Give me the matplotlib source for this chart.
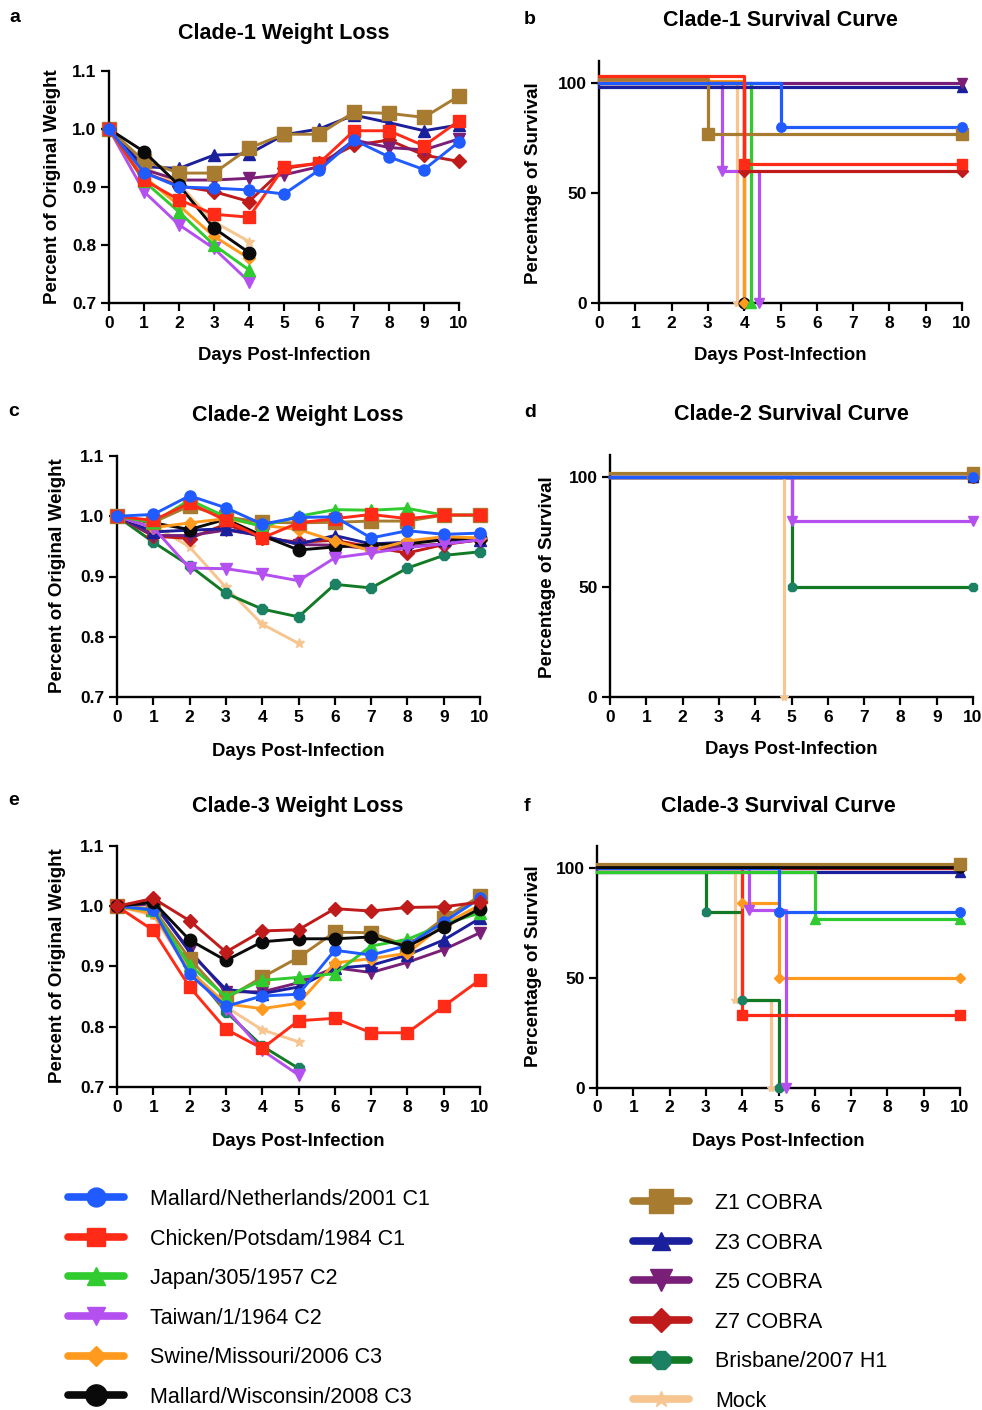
import matplotlib
matplotlib.use('Agg')
import matplotlib.pyplot as plt
from matplotlib.lines import Line2D

plt.rcParams['font.family'] = ['Liberation Sans', 'DejaVu Sans']

W, H = 982, 1410

# ---------------- data ----------------
days = list(range(11))
keys = ['MN', 'CP', 'JP', 'TW', 'SM', 'MW', 'Z1', 'Z3', 'Z5', 'Z7', 'BR', 'MK']
labels = ['Mallard/Netherlands/2001 C1', 'Chicken/Potsdam/1984 C1', 'Japan/305/1957 C2',
          'Taiwan/1/1964 C2', 'Swine/Missouri/2006 C3', 'Mallard/Wisconsin/2008 C3',
          'Z1 COBRA', 'Z3 COBRA', 'Z5 COBRA', 'Z7 COBRA', 'Brisbane/2007 H1', 'Mock']

# Clade-1 weight loss
a_MN = [1.0, 0.925, 0.900, 0.898, 0.895, 0.888, 0.929, 0.981, 0.952, 0.930, 0.978]
a_CP = [1.0, 0.912, 0.878, 0.853, 0.848, 0.934, 0.941, 0.997, 0.997, 0.971, 1.014]
a_JP = [1.0, 0.910, 0.857, 0.800, 0.757]
a_TW = [1.0, 0.892, 0.835, 0.794, 0.737]
a_SM = [1.0, 0.918, 0.868, 0.815, 0.777]
a_MW = [1.0, 0.961, 0.903, 0.829, 0.787]
a_Z1 = [1.0, 0.945, 0.924, 0.924, 0.967, 0.991, 0.991, 1.029, 1.027, 1.020, 1.057]
a_Z3 = [1.0, 0.935, 0.932, 0.955, 0.957, 0.990, 1.000, 1.024, 1.011, 0.997, 1.007]
a_Z5 = [1.0, 0.930, 0.912, 0.912, 0.915, 0.921, 0.935, 0.981, 0.968, 0.964, 0.983]
a_Z7 = [1.0, 0.925, 0.902, 0.892, 0.875, 0.932, 0.941, 0.972, 0.981, 0.955, 0.944]
a_MK = [1.0, 0.935, 0.905, 0.840, 0.806]

# Clade-2 weight loss
c_MN = [1.0, 1.003, 1.034, 1.014, 0.987, 0.998, 0.999, 0.964, 0.976, 0.970, 0.972]
c_CP = [1.0, 0.993, 1.022, 0.993, 0.964, 0.989, 0.996, 1.003, 0.996, 1.002, 1.002]
c_JP = [1.0, 0.990, 1.027, 0.999, 0.983, 1.000, 1.011, 1.010, 1.013, 1.002, 1.002]
c_TW = [1.0, 0.981, 0.914, 0.913, 0.904, 0.893, 0.931, 0.939, 0.948, 0.954, 0.961]
c_SM = [1.0, 0.981, 0.989, 0.996, 0.985, 0.978, 0.959, 0.943, 0.959, 0.966, 0.964]
c_MW = [1.0, 0.989, 0.978, 0.995, 0.968, 0.944, 0.949, 0.953, 0.954, 0.961, 0.964]
c_Z1 = [1.0, 0.990, 1.017, 0.999, 0.990, 0.989, 0.990, 0.992, 0.992, 1.002, 1.002]
c_Z3 = [1.0, 0.974, 0.977, 0.979, 0.967, 0.954, 0.968, 0.954, 0.957, 0.961, 0.961]
c_Z5 = [1.0, 0.968, 0.968, 0.977, 0.968, 0.953, 0.952, 0.946, 0.950, 0.954, 0.961]
c_Z7 = [1.0, 0.967, 0.963, 0.987, 0.964, 0.957, 0.960, 0.949, 0.939, 0.953, 0.961]
c_BR = [1.0, 0.957, 0.918, 0.872, 0.846, 0.833, 0.887, 0.881, 0.914, 0.935, 0.941]
c_MK = [1.0, 0.985, 0.949, 0.882, 0.821, 0.789]

# Clade-3 weight loss
e_MN = [1.0, 0.994, 0.887, 0.834, 0.851, 0.854, 0.927, 0.919, 0.935, 0.974, 1.013]
e_CP = [1.0, 0.960, 0.866, 0.796, 0.764, 0.810, 0.814, 0.790, 0.790, 0.834, 0.878]
e_JP = [1.0, 0.993, 0.902, 0.850, 0.877, 0.882, 0.888, 0.934, 0.945, 0.970, 0.989]
e_TW = [1.0, 0.990, 0.891, 0.830, 0.761, 0.720]
e_SM = [1.0, 0.988, 0.893, 0.838, 0.830, 0.839, 0.906, 0.913, 0.922, 0.970, 1.002]
e_MW = [1.0, 1.007, 0.944, 0.910, 0.941, 0.946, 0.946, 0.949, 0.933, 0.965, 0.996]
e_Z1 = [1.0, 0.996, 0.913, 0.847, 0.882, 0.915, 0.957, 0.956, 0.934, 0.980, 1.017]
e_Z3 = [1.0, 1.007, 0.924, 0.862, 0.855, 0.866, 0.897, 0.902, 0.919, 0.944, 0.980]
e_Z5 = [1.0, 1.004, 0.927, 0.858, 0.858, 0.873, 0.898, 0.890, 0.907, 0.928, 0.956]
e_Z7 = [1.0, 1.013, 0.976, 0.924, 0.959, 0.961, 0.996, 0.992, 0.998, 0.999, 1.007]
e_BR = [1.0, 0.990, 0.897, 0.825, 0.768, 0.731]
e_MK = [1.0, 0.985, 0.890, 0.833, 0.795, 0.775]

# Clade-1 survival (time, percent) -- as plotted, with Prism offsets
b_MK_t, b_MK_s = [0, 3.8], [100, 0]
b_MW_t, b_MW_s = [0, 4.0], [100, 0]
b_SM_t, b_SM_s = [0, 4.0], [101, 0]
b_JP_t, b_JP_s = [0, 4.2], [100, 0]
b_TW_t, b_TW_s = [0, 3.4, 4.4], [100, 60, 0]
b_Z7_t, b_Z7_s = [0, 4.0, 10], [100, 60, 60]
b_Z3_t, b_Z3_s = [0, 10], [98, 98]
b_Z5_t, b_Z5_s = [0, 10], [100, 100]
b_Z1_t, b_Z1_s = [0, 3.0, 10], [102, 77, 77]
b_MN_t, b_MN_s = [0, 5.0, 10], [100, 80, 80]
b_CP_t, b_CP_s = [0, 4.0, 10], [103, 63, 63]

# Clade-2 survival
d_CP_t, d_CP_s = [0, 10], [100, 100]
d_JP_t, d_JP_s = [0, 10], [100, 100]
d_SM_t, d_SM_s = [0, 10], [100, 100]
d_MW_t, d_MW_s = [0, 10], [100, 100]
d_Z3_t, d_Z3_s = [0, 10], [100, 100]
d_Z5_t, d_Z5_s = [0, 10], [100, 100]
d_Z7_t, d_Z7_s = [0, 10], [100, 100]
d_MK_t, d_MK_s = [0, 4.8], [100, 0]
d_BR_t, d_BR_s = [0, 5.0, 10], [100, 50, 50]
d_TW_t, d_TW_s = [0, 5.0, 10], [100, 80, 80]
d_Z1_t, d_Z1_s = [0, 10], [102, 102]
d_MN_t, d_MN_s = [0, 10], [100, 100]

# Clade-3 survival
f_Z5_t, f_Z5_s = [0, 10], [100, 100]
f_Z7_t, f_Z7_s = [0, 10], [100, 100]
f_Z3_t, f_Z3_s = [0, 10], [98, 98]
f_MK_t, f_MK_s = [0, 3.8, 4.8], [100, 40, 0]
f_BR_t, f_BR_s = [0, 3.0, 4.0, 5.0], [98, 80, 40, 0]
f_CP_t, f_CP_s = [0, 4.0, 10], [100, 33, 33]
f_SM_t, f_SM_s = [0, 4.0, 5.0, 10], [100, 84, 50, 50]
f_TW_t, f_TW_s = [0, 4.2, 5.2], [100, 81, 0]
f_JP_t, f_JP_s = [0, 6.0, 10], [98, 77, 77]
f_MN_t, f_MN_s = [0, 5.0, 10], [100, 80, 80]
f_MW_t, f_MW_s = [0, 10], [100.6, 100.6]
f_Z1_t, f_Z1_s = [0, 10], [102, 102]

# ---------------- styles ----------------
style = {
    'MN': dict(color='#1F5BFF', marker='o', ms=8, mfc='#1F5BFF'),
    'CP': dict(color='#FF2B17', marker='s', ms=8, mfc='#FF2B17'),
    'JP': dict(color='#2FCB2F', marker='^', ms=8, mfc='#2FCB2F'),
    'TW': dict(color='#B450F0', marker='v', ms=8, mfc='#B450F0'),
    'SM': dict(color='#FF9A1E', marker='D', ms=6, mfc='#FF9A1E'),
    'MW': dict(color='#0A0A0A', marker='o', ms=9, mfc='#0A0A0A'),
    'Z1': dict(color='#A87C30', marker='s', ms=10, mfc='#A87C30'),
    'Z3': dict(color='#1A1F9C', marker='^', ms=8, mfc='#1A1F9C'),
    'Z5': dict(color='#7A1F78', marker='v', ms=9, mfc='#7A1F78'),
    'Z7': dict(color='#BF1B1B', marker='D', ms=7, mfc='#BF1B1B'),
    'BR': dict(color='#127A25', marker='8', ms=8, mfc='#1C8062'),
    'MK': dict(color='#F6C590', marker='*', ms=7, mfc='#F6C590'),
}
label_of = dict(zip(keys, labels))


def rect(x0, x1, ytop, ybot):
    return [x0 / W, 1 - ybot / H, (x1 - x0) / W, (ybot - ytop) / H]


def ftext(x, y, s, **kw):
    fig.text(x / W, 1 - y / H, s, **kw)


def style_axes(ax, yticks, ylabels, ylim):
    ax.set_xlim(0, 10)
    ax.set_ylim(*ylim)
    for sp in ['top', 'right']:
        ax.spines[sp].set_visible(False)
    for sp in ['left', 'bottom']:
        ax.spines[sp].set_linewidth(1.7)
    ax.set_xticks(days)
    ax.set_xticklabels([str(d) for d in days], fontsize=12.5, fontweight='bold')
    ax.set_yticks(yticks)
    ax.set_yticklabels(ylabels, fontsize=12.5, fontweight='bold')
    ax.tick_params(direction='out', length=6, width=1.6, pad=3)
    ax.set_facecolor('none')


def weight_panel(ax, series):
    for k, y in series:
        st = style[k]
        ax.plot(days[:len(y)], y, color=st['color'], lw=2.1, marker=st['marker'],
                ms=st['ms'], mfc=st['mfc'], mec=st['mfc'], clip_on=False, zorder=3)
    style_axes(ax, [0.7, 0.8, 0.9, 1.0, 1.1], ['0.7', '0.8', '0.9', '1.0', '1.1'], (0.7, 1.1))


def surv_panel(ax, series):
    for k, t, s in series:
        st = style[k]
        ax.step(t, s, where='post', color=st['color'], lw=2.3, clip_on=False, zorder=3)
        ax.plot(t[1:], s[1:], ls='none', marker=st['marker'], ms=st['ms'] * 0.85,
                mfc=st['mfc'], mec=st['mfc'], clip_on=False, zorder=4)
    style_axes(ax, [0, 50, 100], ['0', '50', '100'], (0, 110))


fig = plt.figure(figsize=(W / 100, H / 100), dpi=100)

# ---------- panel a ----------
ax = fig.add_axes(rect(109, 459, 71, 303))
weight_panel(ax, [('MK', a_MK), ('Z7', a_Z7), ('Z5', a_Z5), ('Z3', a_Z3), ('Z1', a_Z1),
                  ('SM', a_SM), ('TW', a_TW), ('JP', a_JP), ('MW', a_MW),
                  ('CP', a_CP), ('MN', a_MN)])
# ---------- panel b ----------
ax = fig.add_axes(rect(599, 962, 61, 303))
surv_panel(ax, [('MK', b_MK_t, b_MK_s), ('MW', b_MW_t, b_MW_s), ('SM', b_SM_t, b_SM_s),
                ('JP', b_JP_t, b_JP_s), ('TW', b_TW_t, b_TW_s), ('Z7', b_Z7_t, b_Z7_s),
                ('Z3', b_Z3_t, b_Z3_s), ('Z5', b_Z5_t, b_Z5_s), ('Z1', b_Z1_t, b_Z1_s),
                ('MN', b_MN_t, b_MN_s), ('CP', b_CP_t, b_CP_s)])
# ---------- panel c ----------
ax = fig.add_axes(rect(117, 480, 456, 697))
weight_panel(ax, [('MK', c_MK), ('BR', c_BR), ('Z7', c_Z7), ('Z5', c_Z5), ('Z3', c_Z3),
                  ('MW', c_MW), ('SM', c_SM), ('TW', c_TW), ('Z1', c_Z1), ('JP', c_JP),
                  ('CP', c_CP), ('MN', c_MN)])
# ---------- panel d ----------
ax = fig.add_axes(rect(610, 973, 455, 697))
surv_panel(ax, [('CP', d_CP_t, d_CP_s), ('JP', d_JP_t, d_JP_s), ('SM', d_SM_t, d_SM_s),
                ('MW', d_MW_t, d_MW_s), ('Z3', d_Z3_t, d_Z3_s), ('Z5', d_Z5_t, d_Z5_s),
                ('Z7', d_Z7_t, d_Z7_s), ('MK', d_MK_t, d_MK_s), ('BR', d_BR_t, d_BR_s),
                ('TW', d_TW_t, d_TW_s), ('Z1', d_Z1_t, d_Z1_s), ('MN', d_MN_t, d_MN_s)])
# ---------- panel e ----------
ax = fig.add_axes(rect(117, 480, 846, 1087))
weight_panel(ax, [('MK', e_MK), ('BR', e_BR), ('TW', e_TW), ('Z5', e_Z5), ('Z3', e_Z3),
                  ('Z1', e_Z1), ('SM', e_SM), ('JP', e_JP), ('CP', e_CP), ('MN', e_MN),
                  ('MW', e_MW), ('Z7', e_Z7)])
# ---------- panel f ----------
ax = fig.add_axes(rect(597, 960, 846, 1088))
surv_panel(ax, [('Z5', f_Z5_t, f_Z5_s), ('Z7', f_Z7_t, f_Z7_s), ('Z3', f_Z3_t, f_Z3_s),
                ('MK', f_MK_t, f_MK_s), ('BR', f_BR_t, f_BR_s), ('SM', f_SM_t, f_SM_s),
                ('TW', f_TW_t, f_TW_s), ('CP', f_CP_t, f_CP_s), ('JP', f_JP_t, f_JP_s),
                ('MN', f_MN_t, f_MN_s), ('MW', f_MW_t, f_MW_s), ('Z1', f_Z1_t, f_Z1_s)])

# ---------- titles / labels ----------
tkw = dict(fontsize=15.5, fontweight='bold', ha='center', va='center')
ftext(284, 33, 'Clade-1 Weight Loss', **tkw)
ftext(780, 20, 'Clade-1 Survival Curve', **tkw)
ftext(298, 415, 'Clade-2 Weight Loss', **tkw)
ftext(791, 415, 'Clade-2 Survival Curve', **tkw)
ftext(298, 806, 'Clade-3 Weight Loss', **tkw)
ftext(778, 806, 'Clade-3 Survival Curve', **tkw)

lkw = dict(fontsize=14, fontweight='bold', ha='center', va='center')
ftext(15, 17, 'a', **lkw)
ftext(530, 20, 'b', **lkw)
ftext(14, 412, 'c', **lkw)
ftext(530, 413, 'd', **lkw)
ftext(14, 800, 'e', **lkw)
ftext(527, 806, 'f', **lkw)

xkw = dict(fontsize=13.3, fontweight='bold', ha='center', va='center')
ftext(284, 355, 'Days Post-Infection', **xkw)
ftext(780, 355, 'Days Post-Infection', **xkw)
ftext(298, 751, 'Days Post-Infection', **xkw)
ftext(791, 749, 'Days Post-Infection', **xkw)
ftext(298, 1141, 'Days Post-Infection', **xkw)
ftext(778, 1141, 'Days Post-Infection', **xkw)

ykw = dict(fontsize=13.5, fontweight='bold', ha='center', va='center', rotation=90)
ftext(53, 187, 'Percent of Original Weight', **ykw)
ftext(58, 576, 'Percent of Original Weight', **ykw)
ftext(58, 966, 'Percent of Original Weight', **ykw)
ftext(534, 183, 'Percentage of Survival', **ykw)
ftext(547, 577, 'Percentage of Survival', **ykw)
ftext(534, 966, 'Percentage of Survival', **ykw)

# ---------- legends ----------
def handle(k):
    st = style[k]
    return Line2D([0], [0], color=st['color'], lw=5.5, marker=st['marker'],
                  ms=st['ms'] * 1.7, mfc=st['mfc'], mec=st['mfc'], solid_capstyle='round')

legkw = dict(loc='upper left', frameon=False, fontsize=15.5, handlelength=2.6,
             handletextpad=1.2, labelspacing=0.86, borderpad=0, borderaxespad=0,
             numpoints=1)
left_keys = keys[:6]
right_keys = keys[6:]
fig.legend([handle(k) for k in left_keys], [label_of[k] for k in left_keys],
           bbox_to_anchor=(68 / W, 1 - 1189 / H), **legkw)
fig.legend([handle(k) for k in right_keys], [label_of[k] for k in right_keys],
           bbox_to_anchor=(633 / W, 1 - 1193 / H), **legkw)

fig.savefig('out.png', dpi=100, facecolor='white')
